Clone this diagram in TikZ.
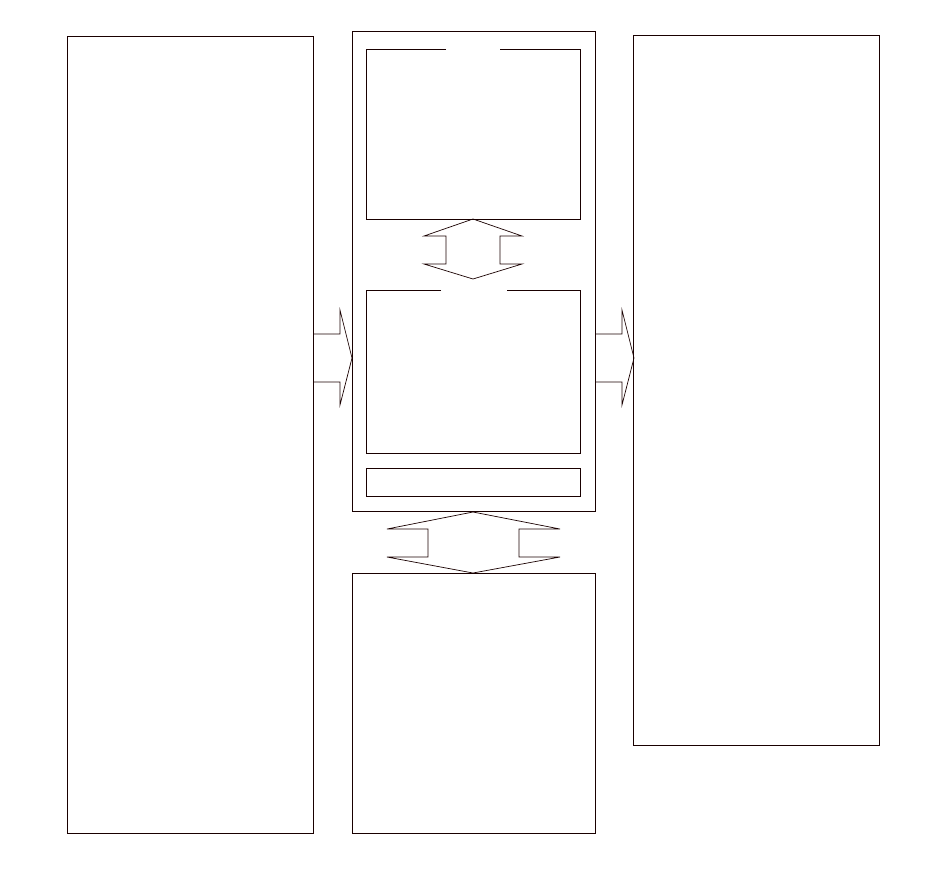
\documentclass[tikz,border=0pt]{standalone}
\begin{document}
\begin{tikzpicture}[x=1pt,y=-1pt,
  outline/.style={draw=black!90!red,line width=0.9pt,line join=miter},
  thinline/.style={draw=black!90!red,line width=0.7pt}]
\useasboundingbox (0,0) rectangle (950,879);
% left box
\draw[outline] (67,36) rectangle (313,833);
% middle outer box
\draw[outline] (352,31) rectangle (595,511);
% top inner box with gap in top edge
\draw[outline] (446,49) -- (366,49) -- (366,219) -- (580,219) -- (580,49) -- (500,49);
% middle inner box with gap
\draw[outline] (441,290) -- (366,290) -- (366,453) -- (580,453) -- (580,290) -- (507,290);
% small bottom box
\draw[outline] (366,468) rectangle (580,496);
% right box
\draw[outline] (633,35) rectangle (879,745);
% bottom box
\draw[outline] (352,573) rectangle (595,833);
% vertical double arrow (top)
\draw[thinline] (473,219) -- (522,236) -- (500,236) -- (500,264) -- (522,264) -- (473,279)
  -- (424,264) -- (446,264) -- (446,236) -- (424,236) -- cycle;
% vertical double arrow (bottom)
\draw[thinline] (473,512) -- (560,529) -- (519,529) -- (519,557) -- (560,557) -- (473,573)
  -- (387,557) -- (428,557) -- (428,529) -- (387,529) -- cycle;
% right arrow from left box
\draw[thinline] (313,334) -- (340,334) -- (340,310) -- (352,358) -- (340,405) -- (340,382) -- (313,382);
% right arrow to right box
\draw[thinline] (595,334) -- (622,334) -- (622,310) -- (634,358) -- (622,405) -- (622,382) -- (595,382);
\end{tikzpicture}
\end{document}
